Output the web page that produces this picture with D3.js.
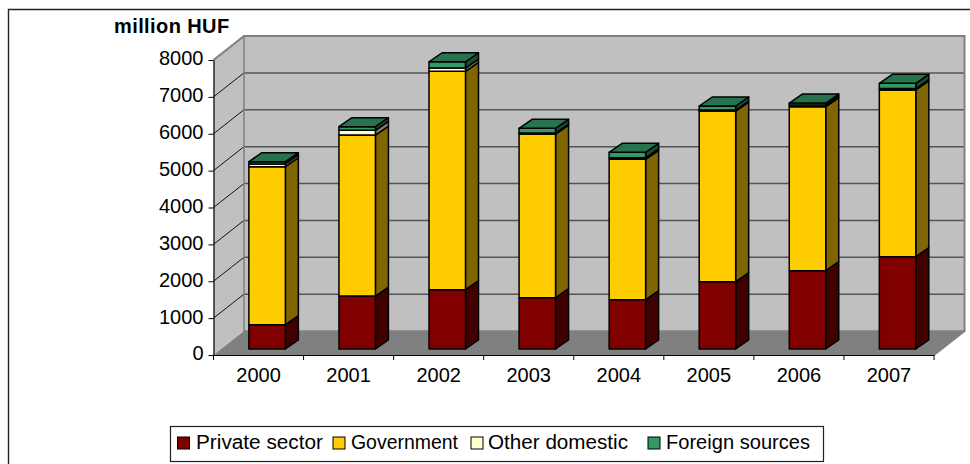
<!DOCTYPE html>
<html>
<head>
<meta charset="utf-8">
<script src="https://cdn.jsdelivr.net/npm/d3@7"></script>
<style>
html,body{margin:0;padding:0;background:#fff;overflow:hidden}
svg{display:block}
text{font-family:"Liberation Sans",Arial,sans-serif;fill:#000}
</style>
</head>
<body>
<div id="chart"></div>
<script>
// R&D funding by source, million HUF
const years = ["2000","2001","2002","2003","2004","2005","2006","2007"];
const privateSector = [660,1437,1608,1391,1337,1825,2123,2503];
const government    = [4283,4366,5922,4439,3807,4629,4447,4521];
const otherDomestic = [75,127,90,25,40,26,50,40];
const foreignSources= [62,100,170,130,150,110,50,141];
const seriesNames = ["Private sector","Government","Other domestic","Foreign sources"];
const seriesValues = [privateSector,government,otherDomestic,foreignSources];
const yTicks = [0,1000,2000,3000,4000,5000,6000,7000,8000];
const yMax = 8000;

// Face colours for each series: front, top, side
const frontColors = ["#800000","#FFCC00","#FFFFCC","#339966"];
const topColors   = ["#600000","#BF9900","#BFBF99","#26734D"];
const sideColors  = ["#400000","#806600","#808066","#1A4D33"];

const W = 970, H = 464;
const plotLeft = 213.5, plotRight = 934, plotBase = 355, plotTop = 60;
const depthX = 30.5, depthY = 24;          // plot box depth
const barDX = 13, barDY = 9;               // bar depth
const barOffX = 8.6, barOffY = 6;          // bars sit slightly behind the front plane

const x = d3.scaleBand().domain(years).range([plotLeft,plotRight]).paddingInner(0.595).paddingOuter(0.2975);
const y = d3.scaleLinear().domain([0,yMax]).range([plotBase,plotTop]);

const svg = d3.select("#chart").append("svg").attr("width",W).attr("height",H);
const pts = a => a.map(p=>p.join(",")).join(" ");

// Outer chart frame (open on the right and bottom)
svg.append("path").attr("d",`M8.5,${H}V9.5H${W}`).attr("fill","none").attr("stroke","#222").attr("stroke-width",1.4);

// Back wall, left wall and floor
const box = svg.append("g");
box.append("polygon").attr("points",pts([[plotLeft+depthX,y(yMax)-depthY],[plotRight+depthX,y(yMax)-depthY],[plotRight+depthX,plotBase-depthY],[plotLeft+depthX,plotBase-depthY]])).attr("fill","#C0C0C0");
box.append("polygon").attr("points",pts([[plotLeft,y(yMax)],[plotLeft+depthX,y(yMax)-depthY],[plotLeft+depthX,plotBase-depthY],[plotLeft,plotBase]])).attr("fill","#C0C0C0");
box.append("polygon").attr("points",pts([[plotLeft,plotBase],[plotRight,plotBase],[plotRight+depthX,plotBase-depthY],[plotLeft+depthX,plotBase-depthY]])).attr("fill","#808080");

// Gridlines along the back wall and across the left wall
box.selectAll("line.back").data(yTicks.filter(v=>v>0&&v<yMax)).join("line").attr("class","back")
  .attr("x1",plotLeft+depthX).attr("x2",plotRight+depthX).attr("y1",d=>y(d)-depthY).attr("y2",d=>y(d)-depthY)
  .attr("stroke","#555").attr("stroke-width",1.5);
box.selectAll("line.side").data(yTicks.filter(v=>v>0&&v<yMax)).join("line").attr("class","side")
  .attr("x1",plotLeft).attr("x2",plotLeft+depthX).attr("y1",d=>y(d)).attr("y2",d=>y(d)-depthY)
  .attr("stroke","#111").attr("stroke-width",1);

// Grey box edges
box.append("path").attr("d",`M${plotLeft},${y(yMax)}L${plotLeft+depthX},${y(yMax)-depthY}H${plotRight+depthX}V${plotBase-depthY}L${plotRight},${plotBase}`)
  .attr("fill","none").attr("stroke","#808080").attr("stroke-width",2);
box.append("path").attr("d",`M${plotLeft+depthX},${y(yMax)-depthY}V${plotBase-depthY}H${plotRight+depthX}`)
  .attr("fill","none").attr("stroke","#808080").attr("stroke-width",1.5);

// Stacked 3-D columns
const stack = d3.stack().keys(d3.range(seriesNames.length)).value((d,k)=>seriesValues[k][d]);
const layers = stack(d3.range(years.length));
const bars = svg.append("g").attr("stroke","#000").attr("stroke-width",1.5).attr("stroke-linejoin","round");
years.forEach((yr,i)=>{
  const x0 = x(yr)+barOffX, x1 = x0+x.bandwidth();
  layers.forEach((layer,k)=>{
    const yb = y(layer[i][0])-barOffY, yt = y(layer[i][1])-barOffY;
    bars.append("polygon").attr("points",pts([[x1,yb],[x1+barDX,yb-barDY],[x1+barDX,yt-barDY],[x1,yt]])).attr("fill",sideColors[k]);
    bars.append("polygon").attr("points",pts([[x0,yb],[x1,yb],[x1,yt],[x0,yt]])).attr("fill",frontColors[k]);
    if(k===layers.length-1){
      bars.append("polygon").attr("points",pts([[x0,yt],[x1,yt],[x1+barDX,yt-barDY],[x0+barDX,yt-barDY]])).attr("fill",topColors[k]);
    }
  });
});

// Axes
const yAxis = svg.append("g").attr("transform",`translate(${plotLeft},0)`)
  .call(d3.axisLeft(y).tickValues(yTicks).tickFormat(d3.format("d")).tickSize(5).tickPadding(5).tickSizeOuter(0));
const xAxis = svg.append("g").attr("transform",`translate(0,${plotBase})`)
  .call(d3.axisBottom(x).tickSize(0).tickPadding(13));
[yAxis,xAxis].forEach(a=>{
  a.attr("font-family",null).attr("font-size",null);
  a.selectAll("text").style("font-size","20px");
  a.selectAll("path.domain").attr("stroke","#000").attr("stroke-width",1.2);
  a.selectAll(".tick line").attr("stroke","#000");
});
yAxis.selectAll("text").attr("y",-1.5);
// Category separators under the baseline
svg.append("g").selectAll("line").data(d3.range(years.length+1)).join("line")
  .attr("x1",i=>plotLeft+i*x.step()).attr("x2",i=>plotLeft+i*x.step()).attr("y1",plotBase).attr("y2",plotBase+5)
  .attr("stroke","#000").attr("stroke-width",1);

// Unit label
svg.append("text").attr("x",114).attr("y",32.5).attr("font-weight","bold").attr("font-size",20)
  .attr("letter-spacing",0.4).text("million HUF");

// Legend
const legendSwatchX = [177.5,333,471,648];
const legendTextX = [196,351,488,666];
const legendTextW = [127,107,140,144];
const lg = svg.append("g");
lg.append("rect").attr("x",170.5).attr("y",426.5).attr("width",653).attr("height",35).attr("fill","#fff").attr("stroke","#222").attr("stroke-width",1.2);
seriesNames.forEach((name,k)=>{
  lg.append("rect").attr("x",legendSwatchX[k]).attr("y",437).attr("width",12).attr("height",12)
    .attr("fill",frontColors[k]).attr("stroke","#000").attr("stroke-width",1);
  lg.append("text").attr("x",legendTextX[k]).attr("y",449).attr("font-size",20)
    .attr("textLength",legendTextW[k]).attr("lengthAdjust","spacingAndGlyphs").text(name);
});
</script>
</body>
</html>
